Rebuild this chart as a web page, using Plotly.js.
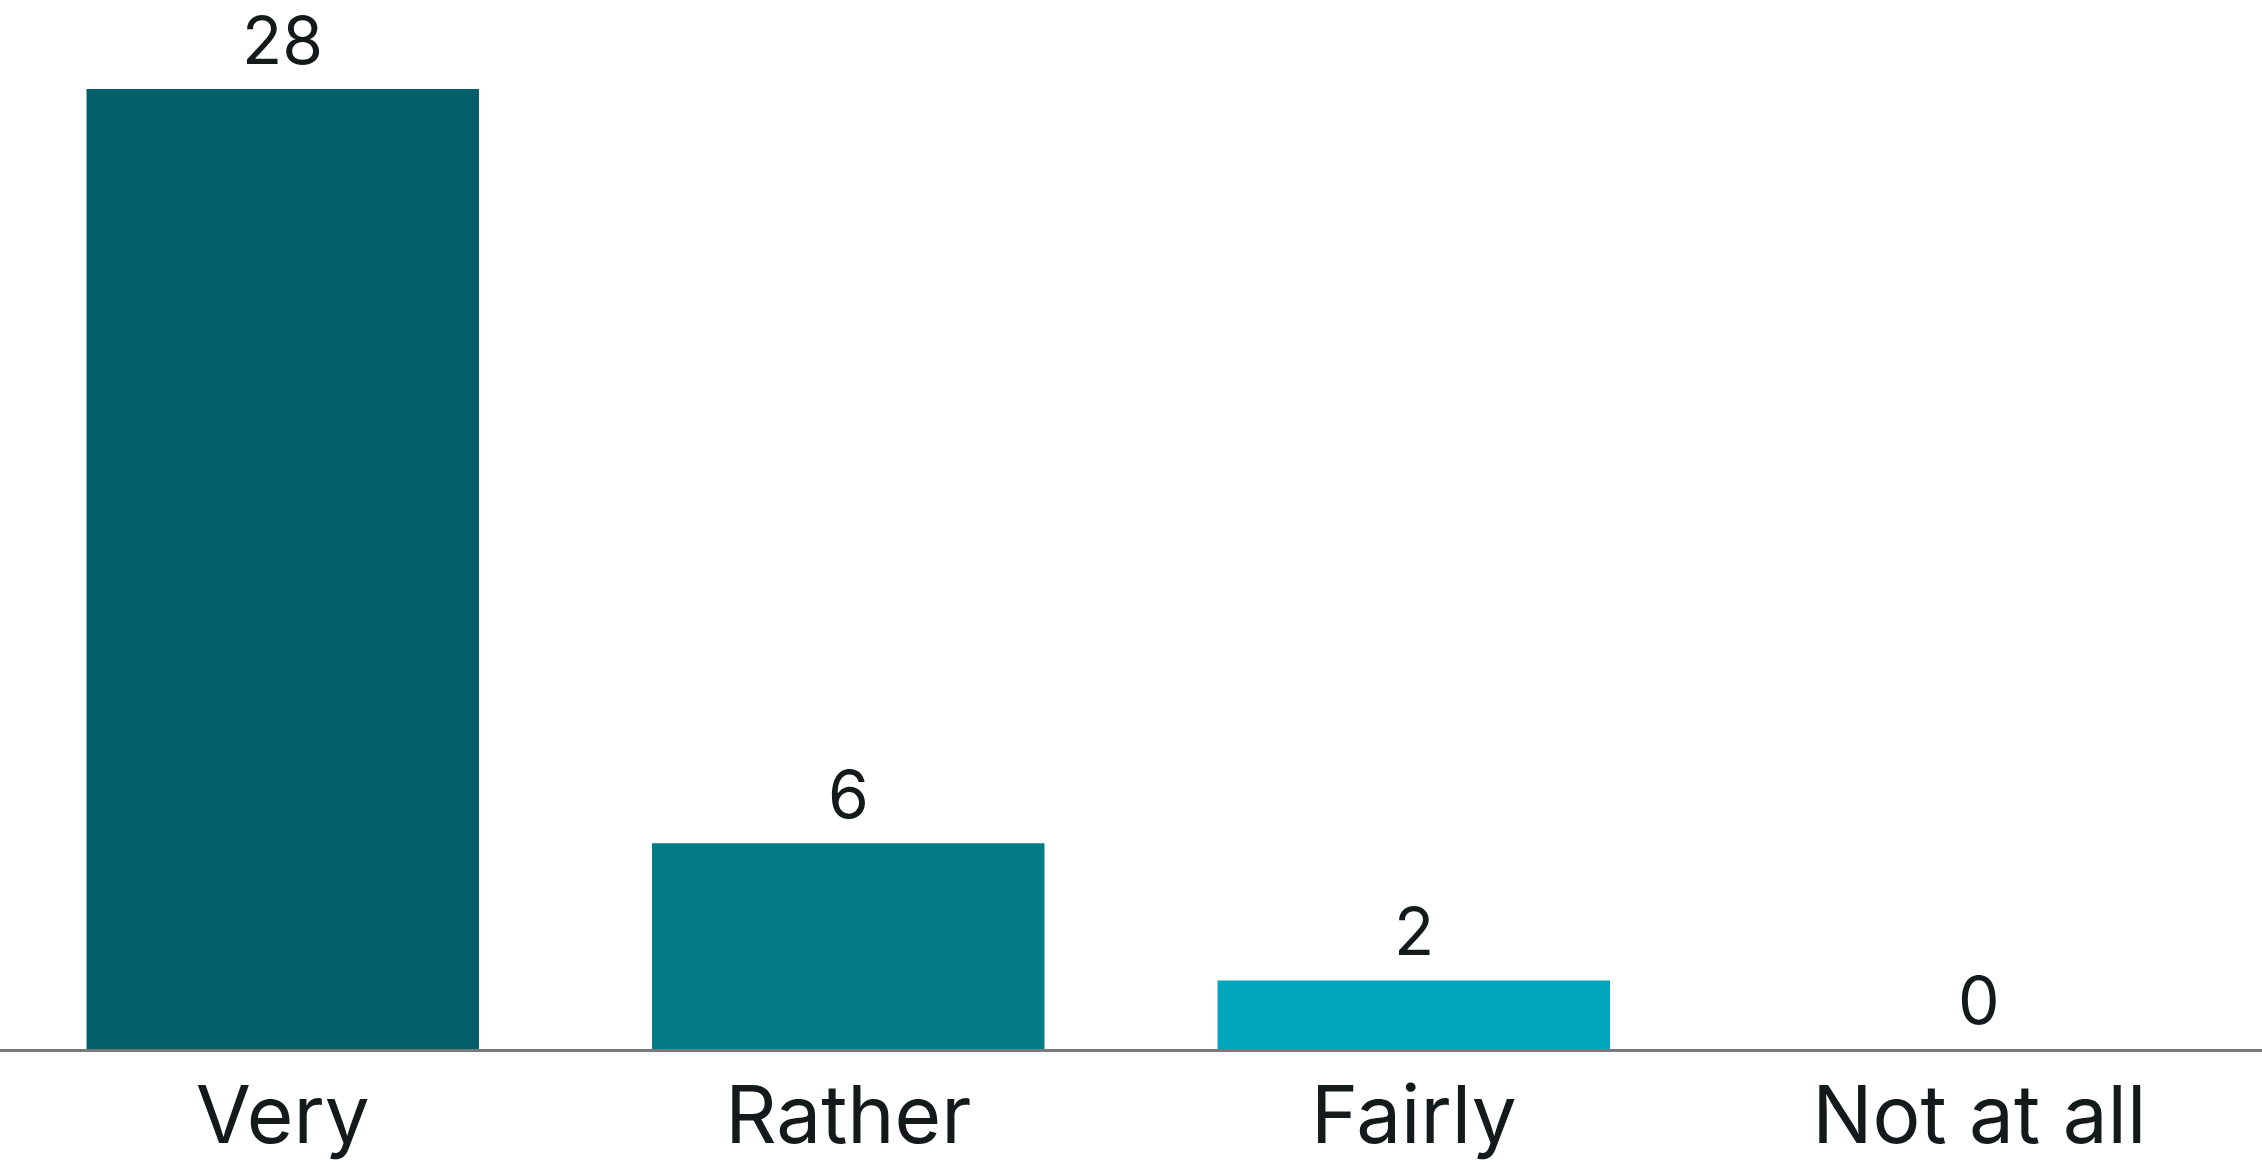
<!DOCTYPE html>
<html>
<head>
<meta charset="utf-8">
<script src="https://cdn.plot.ly/plotly-3.0.1.min.js"></script>
<style>
  html, body { margin: 0; padding: 0; background: #ffffff; }
  #chart { width: 2262px; height: 1166px; }
</style>
</head>
<body>
<div id="chart"></div>
<script>
// Response categories and counts
const categories = ["Very", "Rather", "Fairly", "Not at all"];
const counts = [28, 6, 2, 0];
const barColors = ["#025f6a", "#027a87", "#00a5bd", "#00a5bd"];

const FONT = "Inter, 'Open Sans', sans-serif";
const TEXT_COLOR = "#141a1c";

const trace = {
  type: "bar",
  x: categories,
  y: counts,
  marker: { color: barColors, line: { width: 0 } },
  hoverinfo: "x+y"
};

// value labels above each bar
const annotations = categories.map((c, i) => ({
  x: c,
  y: counts[i],
  xref: "x",
  yref: "y",
  text: String(counts[i]),
  showarrow: false,
  yanchor: "bottom",
  yshift: 7,
  font: { family: FONT, size: 66, weight: 400, color: TEXT_COLOR }
}));

const layout = {
  width: 2262,
  height: 1166,
  margin: { l: 0, r: 0, t: 89, b: 117, pad: 0 },
  paper_bgcolor: "#ffffff",
  plot_bgcolor: "#ffffff",
  showlegend: false,
  bargap: 0.306,
  xaxis: {
    type: "category",
    showline: true,
    linecolor: "#77797a",
    linewidth: 3,
    ticks: "",
    showgrid: false,
    zeroline: false,
    tickfont: { family: FONT, size: 80, weight: 400, color: TEXT_COLOR },
    ticklabelstandoff: -5,
    fixedrange: true
  },
  yaxis: {
    range: [0, 28],
    visible: false,
    showgrid: false,
    zeroline: false,
    fixedrange: true
  },
  annotations: annotations
};

Plotly.newPlot("chart", [trace], layout, { displayModeBar: false, staticPlot: true });
</script>
</body>
</html>
